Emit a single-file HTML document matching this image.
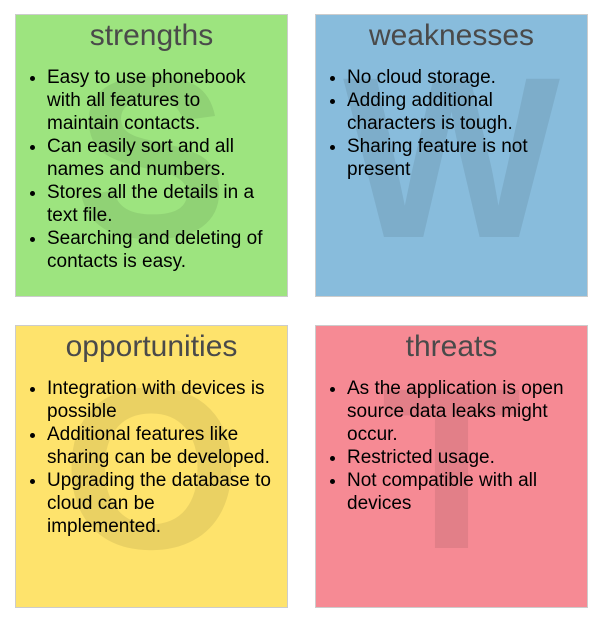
<!DOCTYPE html>
<html><head><style>
body{margin:0;width:603px;height:622px;background:#fff;position:relative;overflow:hidden;font-family:"Liberation Sans",Arial,sans-serif}
.b{position:absolute;width:271px;height:281px;border:1px solid #ccc;overflow:hidden}
.big{position:absolute;left:0;width:100%;top:8px;text-align:center;font-weight:bold;font-size:230px;line-height:270px;color:rgba(0,0,0,0.08)}
h2{position:absolute;top:4px;left:0;width:100%;margin:0;text-align:center;font-weight:normal;font-size:30px;color:#4a4a4a}
ul{position:absolute;top:51px;left:0;margin:0;padding-left:31px;padding-right:16px;font-size:19px;line-height:23px;color:#000}
</style></head><body>
<div class="b" style="left:15px;top:14px;background:#9de47f"><div class="big">S</div><h2>strengths</h2><ul><li>Easy to use phonebook with all features to maintain contacts.</li><li>Can easily sort and all names and numbers.</li><li>Stores all the details in a text file.</li><li>Searching and deleting of contacts is easy.</li></ul></div>
<div class="b" style="left:315px;top:14px;background:#88bcdc"><div class="big">W</div><h2>weaknesses</h2><ul><li>No cloud storage.</li><li>Adding additional characters is tough.</li><li>Sharing feature is not present</li></ul></div>
<div class="b" style="left:15px;top:325px;background:#fee36c"><div class="big">O</div><h2>opportunities</h2><ul><li>Integration with devices is possible</li><li>Additional features like sharing can be developed.</li><li>Upgrading the database to cloud can be implemented.</li></ul></div>
<div class="b" style="left:315px;top:325px;background:#f68a94"><div class="big">T</div><h2>threats</h2><ul><li>As the application is open source data leaks might occur.</li><li>Restricted usage.</li><li>Not compatible with all devices</li></ul></div>
</body></html>
